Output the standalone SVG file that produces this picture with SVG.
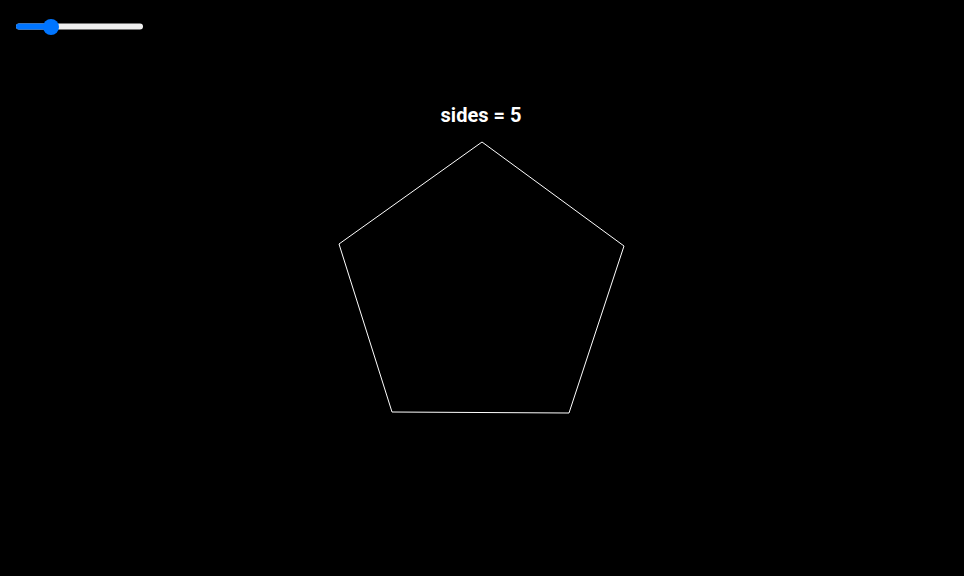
<svg xmlns="http://www.w3.org/2000/svg" width="964" height="576" viewBox="0 0 964 576">
<style>
.title{font-family:Roboto,"Liberation Sans",sans-serif;font-size:20px;font-weight:bold;fill:#ffffff}
.shape{fill:none;stroke:#ffffff;stroke-width:1}
</style>
<rect x="0" y="0" width="964" height="576" fill="#000000"/>
<g id="slider">
<rect x="16" y="23.5" width="127" height="6" rx="3" fill="#efefef"/>
<rect x="16" y="23.5" width="36" height="6" rx="3" fill="#0075ff"/>
<circle cx="51" cy="27" r="8" fill="#0075ff"/>
</g>
<g id="label"><text class="title" x="481" y="122" text-anchor="middle">sides = 5</text></g>
<g id="pentagon"><polygon class="shape" points="482,142 624,246 569,413 392,412 339,244"/></g>
</svg>
